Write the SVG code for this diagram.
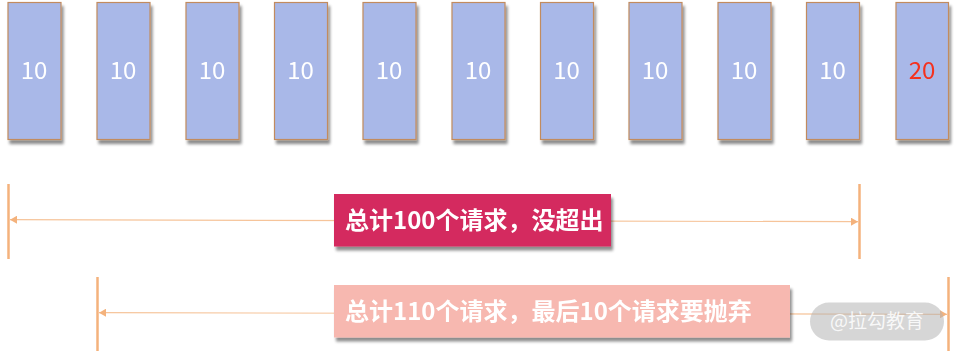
<svg xmlns="http://www.w3.org/2000/svg" width="957" height="353" viewBox="0 0 957 353">
<style>
.box{fill:#A9B8E8;stroke:#C28B5E;stroke-width:1.2}
.num{font-family:"Noto Sans CJK SC","Noto Sans",sans-serif;font-size:24px;fill:#ffffff;text-anchor:middle}
.red{fill:#F5301F}
.vl{stroke:#F4B27C;stroke-width:2.5}
.al{stroke:#F6C49A;stroke-width:1.2;fill:none}
.lbl{font-family:"Noto Sans CJK SC",sans-serif;font-size:24px;font-weight:bold;fill:#ffffff}
</style>
<defs>
<filter id="sh" x="-30%" y="-10%" width="160%" height="130%">
<feGaussianBlur in="SourceAlpha" stdDeviation="1.5"/>
<feOffset dx="2" dy="4" result="b"/>
<feComponentTransfer><feFuncA type="linear" slope="0.45"/></feComponentTransfer>
<feMerge><feMergeNode/><feMergeNode in="SourceGraphic"/></feMerge>
</filter>
<marker id="ah" markerWidth="8" markerHeight="8" refX="7" refY="4" orient="auto-start-reverse" markerUnits="userSpaceOnUse">
<path d="M0,0 L7,4 L0,8 Z" fill="#F4B27C"/>
</marker>
</defs>
<g id="n1" filter="url(#sh)"><rect class="box" x="8" y="2.5" width="53" height="137"/><text class="num" x="34" y="79">10</text></g>
<g id="n2" filter="url(#sh)"><rect class="box" x="97" y="2.5" width="53" height="137"/><text class="num" x="123" y="79">10</text></g>
<g id="n3" filter="url(#sh)"><rect class="box" x="186" y="2.5" width="53" height="137"/><text class="num" x="212" y="79">10</text></g>
<g id="n4" filter="url(#sh)"><rect class="box" x="274.5" y="2.5" width="53" height="137"/><text class="num" x="300.5" y="79">10</text></g>
<g id="n5" filter="url(#sh)"><rect class="box" x="363" y="2.5" width="53" height="137"/><text class="num" x="389" y="79">10</text></g>
<g id="n6" filter="url(#sh)"><rect class="box" x="452" y="2.5" width="53" height="137"/><text class="num" x="478" y="79">10</text></g>
<g id="n7" filter="url(#sh)"><rect class="box" x="540.5" y="2.5" width="53" height="137"/><text class="num" x="566.5" y="79">10</text></g>
<g id="n8" filter="url(#sh)"><rect class="box" x="629" y="2.5" width="53" height="137"/><text class="num" x="655" y="79">10</text></g>
<g id="n9" filter="url(#sh)"><rect class="box" x="718" y="2.5" width="53" height="137"/><text class="num" x="744" y="79">10</text></g>
<g id="n10" filter="url(#sh)"><rect class="box" x="806.5" y="2.5" width="53" height="137"/><text class="num" x="832.5" y="79">10</text></g>
<g id="n11" filter="url(#sh)"><rect class="box" x="896" y="2.5" width="52.5" height="137"/><text class="num red" x="922" y="79">20</text></g>
<g id="connectors">
<line class="vl" x1="8.5" y1="184" x2="8.5" y2="259"/>
<line class="vl" x1="859.5" y1="184" x2="859.5" y2="259"/>
<line class="vl" x1="97.5" y1="277" x2="97.5" y2="351"/>
<line class="vl" x1="948.5" y1="277" x2="948.5" y2="351"/>
<line class="al" x1="10" y1="219.7" x2="858" y2="221.7" marker-start="url(#ah)" marker-end="url(#ah)"/>
<line class="al" x1="99" y1="312.7" x2="947" y2="314.3" marker-start="url(#ah)" marker-end="url(#ah)"/>
</g>
<g id="label1" filter="url(#sh)"><rect x="334" y="194" width="277" height="52.5" fill="#D42B5F"/><text class="lbl" x="345" y="229">总计100个请求，没超出</text></g>
<g id="label2" filter="url(#sh)"><rect x="334" y="285" width="456" height="52.5" fill="#F7B8B0"/><text class="lbl" x="345" y="320">总计110个请求，最后10个请求要抛弃</text></g>
<g id="watermark"><rect x="810" y="302.5" width="134" height="38" rx="19" fill="#B4B4B4" fill-opacity="0.55"/><text x="877" y="328" font-family="Noto Sans CJK SC,sans-serif" font-size="19" fill="#ffffff" fill-opacity="0.85" text-anchor="middle">@拉勾教育</text></g>
</svg>
